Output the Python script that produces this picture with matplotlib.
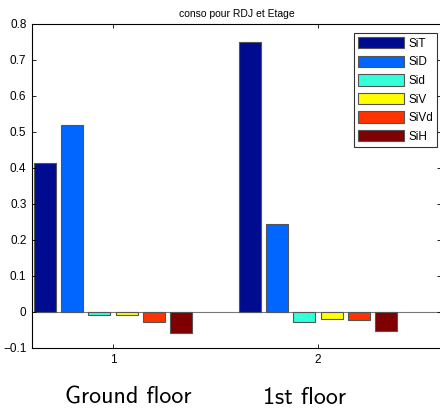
import matplotlib
matplotlib.use("Agg")
import matplotlib.pyplot as plt
import numpy as np
from matplotlib import font_manager
import os

groups = [1, 2]
floor_labels = ["Ground floor", "1st floor"]
series = ["SiT", "SiD", "Sid", "SiV", "SiVd", "SiH"]
SiT = [0.415, 0.75]
SiD = [0.519, 0.244]
Sid = [-0.009, -0.029]
SiV = [-0.009, -0.019]
SiVd = [-0.029, -0.022]
SiH = [-0.059, -0.054]
values = [SiT, SiD, Sid, SiV, SiVd, SiH]
colors = ["#000c8f", "#0066ff", "#33ffd9", "#ffff00", "#ff3300", "#800000"]

plt.rcParams['font.family'] = ['Liberation Sans', 'DejaVu Sans']

fig = plt.figure(figsize=(4.4, 4.08), dpi=100)
ax = fig.add_axes([32/440, (408-348)/408, 409/440, (348-24)/408])

n = len(series)
gw = 0.8
step = gw / n
bw = step * 0.8
x = np.array(groups, dtype=float)
for i, (name, vals, c) in enumerate(zip(series, values, colors)):
    offs = (i - (n - 1) / 2) * step
    ax.bar(x + offs, vals, width=bw, color=c, edgecolor="#555555", linewidth=0.8, label=name)

ax.axhline(0, color="#777777", linewidth=0.8, zorder=0)
ax.set_xlim(0.605, 2.6)
ax.set_ylim(-0.1, 0.8)
ax.set_xticks(groups)
ax.set_yticks(np.arange(-0.1, 0.81, 0.1))
ax.set_yticklabels(["\u22120.1", "0", "0.1", "0.2", "0.3", "0.4", "0.5", "0.6", "0.7", "0.8"])
ax.tick_params(direction="in", top=True, right=True, labelsize=8.5, length=3, width=0.6, pad=4)
for s in ax.spines.values():
    s.set_linewidth(0.8)
ax.set_title("conso pour RDJ et Etage", fontsize=7.5, pad=5)

leg = ax.legend(loc="upper left", bbox_to_anchor=((354-32)/409, (348-33)/324), fontsize=8.5,
                frameon=True, fancybox=False, edgecolor="black", handlelength=3.9,
                handleheight=1.1, handletextpad=0.35, labelspacing=0.5, borderpad=0.35,
                borderaxespad=0)
leg.get_frame().set_linewidth(0.8)

cmss = os.path.join(matplotlib.get_data_path(), "fonts", "ttf", "cmss10.ttf")
fp = font_manager.FontProperties(fname=cmss, size=17.3)
for g, lab in zip(groups, floor_labels):
    xd = ax.transData.transform((g, 0))[0]
    xf = fig.transFigure.inverted().transform((xd, 0))[0]
    fig.text(xf + (0.034 if g == 1 else -0.03), 4/408, lab, fontproperties=fp, ha="center", va="baseline")

fig.savefig("out.png", dpi=100)
